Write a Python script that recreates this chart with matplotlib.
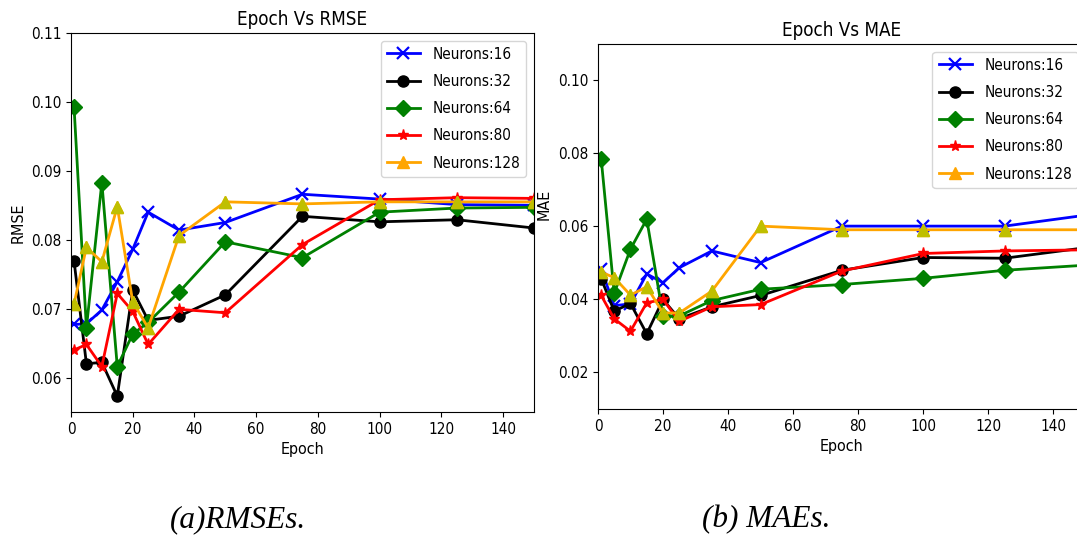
import matplotlib
matplotlib.use("Agg")
import matplotlib.pyplot as plt

plt.rcParams["font.family"] = ["DejaVu Sans"]
plt.rcParams["font.stretch"] = "condensed"

epochs = [1, 5, 10, 15, 20, 25, 35, 50, 75, 100, 125, 150]
labels = ["Neurons:16", "Neurons:32", "Neurons:64", "Neurons:80", "Neurons:128"]

rmse_16 = [0.0677, 0.0678, 0.0698, 0.0739, 0.0786, 0.0840, 0.0814, 0.0825, 0.0866, 0.0859, 0.0851, 0.0850]
rmse_32 = [0.0769, 0.0620, 0.0622, 0.0573, 0.0727, 0.0683, 0.0689, 0.0720, 0.0834, 0.0826, 0.0829, 0.0817]
rmse_64 = [0.0992, 0.0672, 0.0883, 0.0616, 0.0663, 0.0680, 0.0724, 0.0797, 0.0774, 0.0840, 0.0846, 0.0847]
rmse_80 = [0.0640, 0.0648, 0.0616, 0.0722, 0.0696, 0.0648, 0.0699, 0.0694, 0.0793, 0.0858, 0.0861, 0.0860]
rmse_128 = [0.0707, 0.0789, 0.0768, 0.0848, 0.0710, 0.0672, 0.0806, 0.0855, 0.0852, 0.0855, 0.0855, 0.0855]

mae_16 = [0.0483, 0.0383, 0.0388, 0.0470, 0.0446, 0.0487, 0.0533, 0.0501, 0.0601, 0.0601, 0.0601, 0.0631]
mae_32 = [0.0457, 0.0368, 0.0389, 0.0306, 0.0400, 0.0347, 0.0380, 0.0411, 0.0480, 0.0515, 0.0513, 0.0542]
mae_64 = [0.0785, 0.0417, 0.0538, 0.0620, 0.0355, 0.0355, 0.0397, 0.0428, 0.0441, 0.0458, 0.0480, 0.0494]
mae_80 = [0.0411, 0.0347, 0.0313, 0.0391, 0.0400, 0.0340, 0.0380, 0.0386, 0.0478, 0.0526, 0.0533, 0.0536]
mae_128 = [0.0475, 0.0460, 0.0412, 0.0435, 0.0363, 0.0363, 0.0423, 0.0601, 0.0591, 0.0591, 0.0591, 0.0591]

colors = ["blue", "black", "green", "red", "orange"]
markers = ["x", "o", "D", "*", "^"]

fig = plt.figure(figsize=(10.77, 5.37), dpi=100)
ax1 = fig.add_axes([0.0659, 0.2328, 0.4299, 0.7057])
ax2 = fig.add_axes([0.5552, 0.2384, 0.4531, 0.6797])


def draw(ax, series, title, ylabel, ylim, yticks):
    for vals, c, m, lab in zip(series, colors, markers, labels):
        ax.plot(epochs, vals, color=c, marker=m, linewidth=2, markersize=8,
                markeredgewidth=1.6 if m == "x" else 1, label=lab)
        if m == "^":
            # triangles show olive in the plot body, orange in the legend
            ax.plot(epochs, vals, linestyle="none", marker="^", color="y", markersize=8)
    ax.set_xlim(0, 150)
    ax.set_ylim(*ylim)
    ax.set_yticks(yticks)
    ax.set_xticks(range(0, 160, 20))
    ax.tick_params(labelsize=11)
    ax.set_title(title, fontsize=13.5)
    ax.set_xlabel("Epoch", fontsize=11.5)
    ax.set_ylabel(ylabel, fontsize=11.5)
    ax.legend(loc="upper right", fontsize=11, labelspacing=0.8, handlelength=2.2)


draw(ax1, [rmse_16, rmse_32, rmse_64, rmse_80, rmse_128], "Epoch Vs RMSE", "RMSE",
     (0.055, 0.11), [0.06, 0.07, 0.08, 0.09, 0.10, 0.11])
draw(ax2, [mae_16, mae_32, mae_64, mae_80, mae_128], "Epoch Vs MAE", "MAE",
     (0.01, 0.11), [0.02, 0.04, 0.06, 0.08, 0.10])
ax2.yaxis.set_label_coords(-0.095, 0.56)

fig.text(0.158, 0.018, "(a)RMSEs.", family="Liberation Serif", style="italic", fontsize=22.5)
fig.text(0.652, 0.018, "(b) MAEs.", family="Liberation Serif", style="italic", fontsize=22.5)

fig.savefig("out.png", dpi=100)
